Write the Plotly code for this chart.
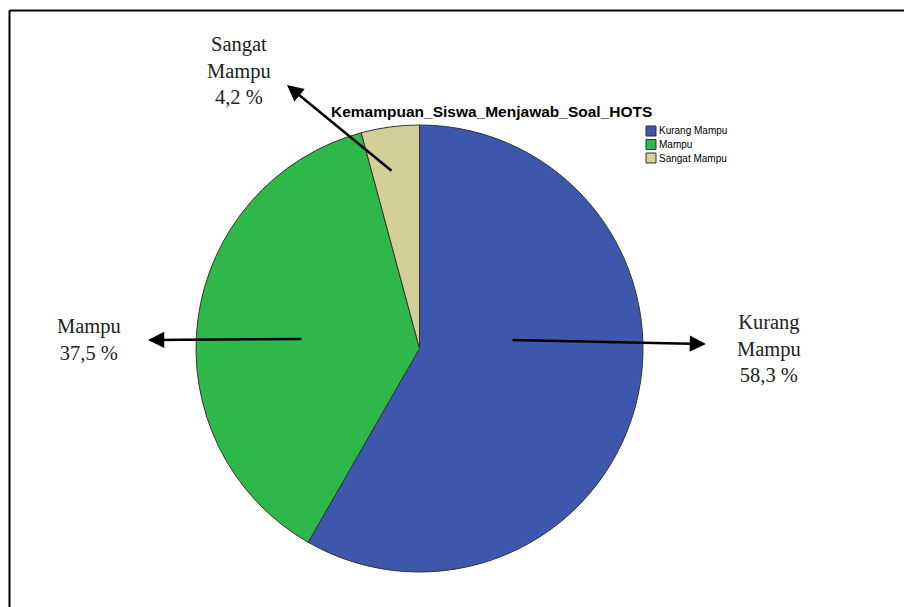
import plotly.graph_objects as go

W, H = 904, 607

categories = ["Kurang Mampu", "Mampu", "Sangat Mampu"]
percent = [58.3, 37.5, 4.2]
colors = ["#3D57AC", "#2EB84A", "#D4CF98"]
label_text = ["Kurang<br>Mampu<br>58,3 %", "Mampu<br>37,5 %", "Sangat<br>Mampu<br>4,2 %"]
title_text = "Kemampuan_Siswa_Menjawab_Soal_HOTS"

def px(x):
    return x / W

def py(y):
    return 1 - y / H

fig = go.Figure(go.Pie(
    labels=categories, values=percent, sort=False, direction="clockwise",
    rotation=0, textinfo="none", hoverinfo="label+percent",
    marker=dict(colors=colors, line=dict(color="#333333", width=1)),
    domain=dict(x=[px(196), px(643)], y=[py(572), py(125)]),
    showlegend=False,
))

shapes = [
    dict(type="line", xref="paper", yref="paper", x0=px(9.5), x1=px(9.5), y0=0, y1=py(10.5),
         line=dict(color="black", width=2)),
    dict(type="line", xref="paper", yref="paper", x0=px(9.5), x1=1, y0=py(10.5), y1=py(10.5),
         line=dict(color="black", width=2)),
]
annotations = []

# title
annotations.append(dict(text="<b>" + title_text + "</b>", x=px(492), y=py(112), xref="paper", yref="paper",
                        showarrow=False, font=dict(family="Liberation Sans, Arial", size=15.5, color="black"),
                        xanchor="center", yanchor="middle"))

# manual legend
for i, (c, col) in enumerate(zip(categories, colors)):
    yc = 131 + i * 13.5
    shapes.append(dict(type="rect", xref="paper", yref="paper", x0=px(646), x1=px(656),
                       y0=py(yc - 5), y1=py(yc + 5), fillcolor=col, line=dict(color="#333333", width=1)))
    annotations.append(dict(text=c, x=px(656.5), y=py(yc), xref="paper", yref="paper", showarrow=False,
                            xanchor="left", yanchor="middle",
                            font=dict(family="Liberation Sans, Arial", size=10, color="black")))

# arrows (head x,y ; tail x,y)
arrows = [((706, 344), (511, 340)), ((148, 340), (303, 339)), ((287, 85), (393, 172))]
for (hx, hy), (tx, ty) in arrows:
    annotations.append(dict(text="", x=px(hx), y=py(hy), xref="paper", yref="paper",
                            ax=tx - hx, ay=ty - hy, axref="pixel", ayref="pixel",
                            showarrow=True, arrowhead=2, arrowsize=1.3, arrowwidth=2.5,
                            arrowcolor="black", standoff=0, startstandoff=0))

label_pos = [(769, 348), (89, 339), (239, 70)]
for t, (lx, ly) in zip(label_text, label_pos):
    annotations.append(dict(text=t, x=px(lx), y=py(ly), xref="paper", yref="paper", showarrow=False,
                            xanchor="center", yanchor="middle", align="center",
                            font=dict(family="Liberation Serif, serif", size=20.5, color="#222222")))

fig.update_layout(width=W, height=H, margin=dict(l=0, r=0, t=0, b=0),
                  paper_bgcolor="white", plot_bgcolor="white",
                  shapes=shapes, annotations=annotations)

fig.write_html("out.html")
